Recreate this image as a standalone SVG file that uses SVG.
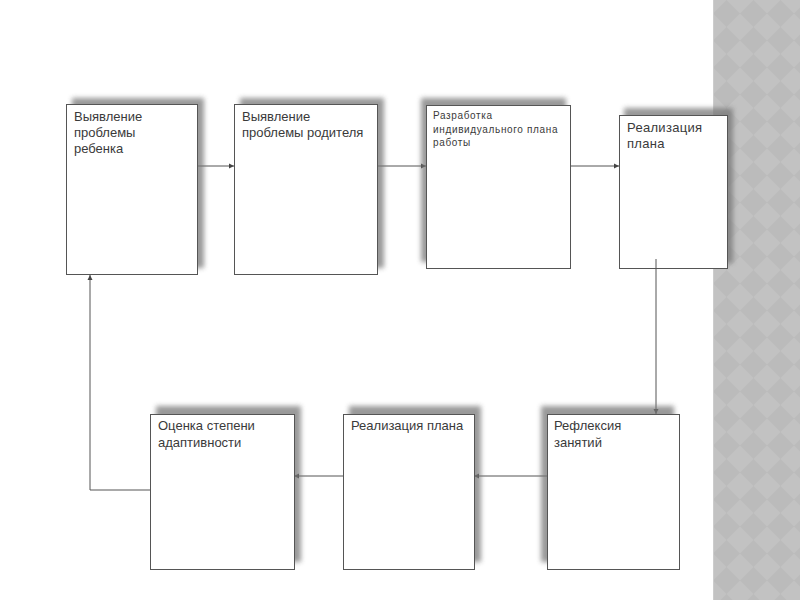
<svg xmlns="http://www.w3.org/2000/svg" width="800" height="600" viewBox="0 0 800 600">
<defs>
<style>
.box{fill:#ffffff;stroke:#555555;stroke-width:1}
.sh{fill:#777777;opacity:0.75;filter:url(#blur)}
.t{font-family:"Liberation Sans",Arial,sans-serif;font-size:13px;fill:#3a3a3a}
.ts{font-family:"Liberation Sans",Arial,sans-serif;font-size:10px;fill:#3a3a3a;letter-spacing:0.65px}
.c{fill:none;stroke:#555555;stroke-width:1;marker-end:url(#ah)}
</style>
<filter id="blur" x="-20%" y="-20%" width="140%" height="140%"><feGaussianBlur stdDeviation="2.5"/></filter>
<marker id="ah" markerUnits="userSpaceOnUse" markerWidth="6" markerHeight="6" refX="5" refY="3" orient="auto"><path d="M0,0.5 L5,3 L0,5.5 Z" fill="#444444"/></marker>
<pattern id="chk" patternUnits="userSpaceOnUse" x="713" y="0" width="27" height="27">
<rect width="27" height="27" fill="#c2c2c2"/>
<path d="M13.5,0 L27,13.5 L13.5,27 L0,13.5 Z" fill="#bbbbbb"/>
</pattern>
</defs>
<rect width="800" height="600" fill="#ffffff"/>
<rect x="713" y="0" width="87" height="600" fill="url(#chk)"/>
<line x1="713.5" y1="0" x2="713.5" y2="600" stroke="#cccccc" stroke-width="1"/>

<g id="connectors">
<line class="c" x1="198" y1="166" x2="234" y2="166"/>
<line class="c" x1="378" y1="166" x2="426" y2="166"/>
<line class="c" x1="571" y1="166" x2="619" y2="166"/>
<line class="c" x1="547" y1="476" x2="474" y2="476"/>
<line class="c" x1="343" y1="476" x2="294" y2="476"/>
<polyline class="c" points="150,490 90,490 90,275"/>
</g>

<g id="n1">
<rect class="sh" x="72" y="98" width="132" height="170"/>
<rect class="box" x="66.5" y="104.5" width="131" height="170"/>
<text class="t" x="74" y="121">Выявление</text>
<text class="t" x="74" y="137">проблемы</text>
<text class="t" x="74" y="153">ребенка</text>
</g>
<g id="n2">
<rect class="sh" x="240" y="98" width="144" height="170"/>
<rect class="box" x="234.5" y="104.5" width="143" height="170"/>
<text class="t" x="242" y="121">Выявление</text>
<text class="t" x="242" y="137">проблемы родителя</text>
</g>
<g id="n3">
<rect class="sh" x="421" y="98" width="145" height="164"/>
<rect class="box" x="426.5" y="105.5" width="144" height="163"/>
<text class="ts" x="433" y="119">Разработка</text>
<text class="ts" x="433" y="133">индивидуального плана</text>
<text class="ts" x="433" y="146">работы</text>
</g>
<g id="n4">
<rect class="sh" x="624" y="108" width="109" height="155"/>
<rect class="box" x="619.5" y="115.5" width="108" height="153"/>
<text class="t" x="627" y="132" style="letter-spacing:0.3px">Реализация</text>
<text class="t" x="627" y="148" style="letter-spacing:0.3px">плана</text>
</g>
<line class="c" x1="656" y1="259" x2="656" y2="414"/>
<g id="n5">
<rect class="sh" x="156" y="406" width="145" height="156"/>
<rect class="box" x="150.5" y="414.5" width="144" height="155"/>
<text class="t" x="158" y="430">Оценка степени</text>
<text class="t" x="158" y="447">адаптивности</text>
</g>
<g id="n6">
<rect class="sh" x="349" y="406" width="132" height="156"/>
<rect class="box" x="343.5" y="414.5" width="131" height="155"/>
<text class="t" x="351" y="430">Реализация плана</text>
</g>
<g id="n7">
<rect class="sh" x="541" y="406" width="133" height="156"/>
<rect class="box" x="547.5" y="414.5" width="132" height="155"/>
<text class="t" x="554" y="430">Рефлексия</text>
<text class="t" x="554" y="447">занятий</text>
</g>
</svg>
